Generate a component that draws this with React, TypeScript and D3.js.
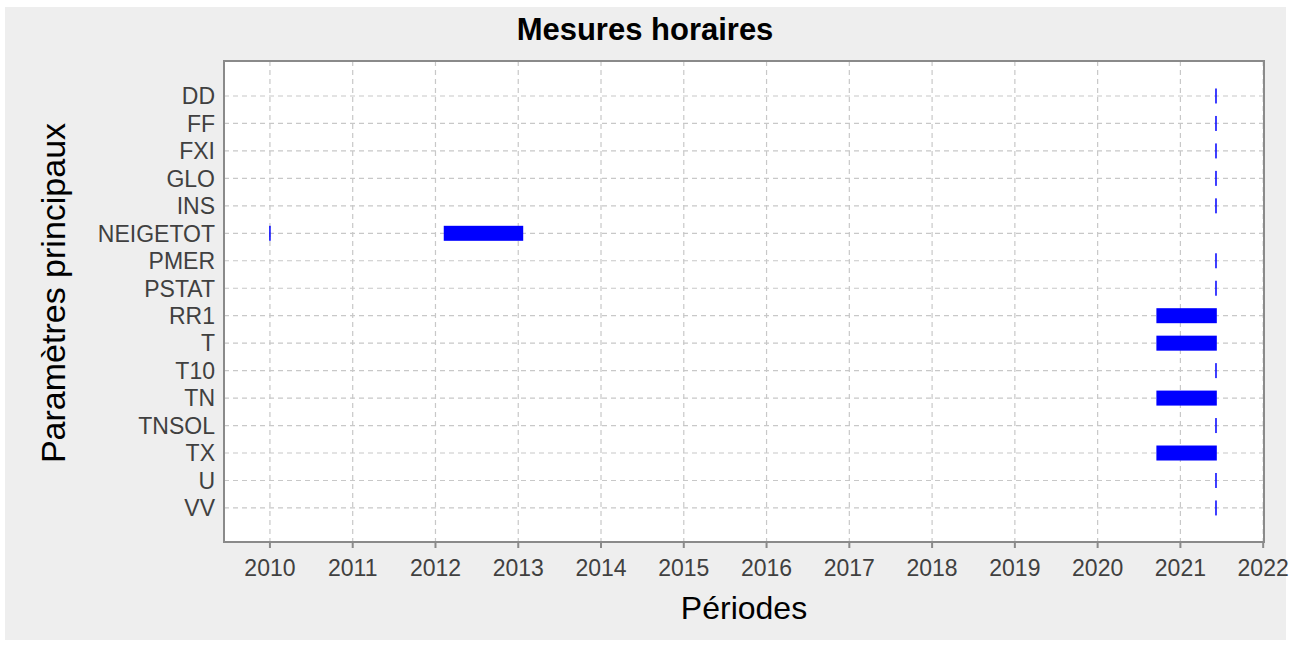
import React, { useEffect, useRef } from 'react';
import * as d3 from 'd3';

const params = ['DD', 'FF', 'FXI', 'GLO', 'INS', 'NEIGETOT', 'PMER', 'PSTAT', 'RR1', 'T', 'T10', 'TN', 'TNSOL', 'TX', 'U', 'VV'];
const years = [2010, 2011, 2012, 2013, 2014, 2015, 2016, 2017, 2018, 2019, 2020, 2021, 2022];

// periods as decimal years, [param, start, end]
const periods: [string, number, number][] = [
  ['DD', 2021.43, 2021.43],
  ['FF', 2021.43, 2021.43],
  ['FXI', 2021.43, 2021.43],
  ['GLO', 2021.43, 2021.43],
  ['INS', 2021.43, 2021.43],
  ['NEIGETOT', 2010.0, 2010.0],
  ['NEIGETOT', 2012.1, 2013.06],
  ['PMER', 2021.43, 2021.43],
  ['PSTAT', 2021.43, 2021.43],
  ['RR1', 2020.71, 2021.44],
  ['T', 2020.71, 2021.44],
  ['T10', 2021.43, 2021.43],
  ['TN', 2020.71, 2021.44],
  ['TNSOL', 2021.43, 2021.43],
  ['TX', 2020.71, 2021.44],
  ['U', 2021.43, 2021.43],
  ['VV', 2021.43, 2021.43],
];

const App: React.FC = () => {
  const ref = useRef<SVGSVGElement>(null);

  useEffect(() => {
    if (!ref.current) return;
    const svg = d3.select(ref.current);
    svg.selectAll('*').remove();

    const W = 1297, H = 646;
    const plot = { left: 224, right: 1264, top: 61, bottom: 542 };
    const font = '"Liberation Sans", Arial, sans-serif';

    // panel background
    svg.append('rect').attr('width', W).attr('height', H).attr('fill', '#ffffff');
    svg.append('rect').attr('x', 5).attr('y', 7).attr('width', 1281).attr('height', 633).attr('fill', '#eeeeee');
    svg.append('rect')
      .attr('x', plot.left).attr('y', plot.top)
      .attr('width', plot.right - plot.left).attr('height', plot.bottom - plot.top)
      .attr('fill', '#ffffff');

    const x = d3.scaleLinear().domain([2009.445, 2022.01]).range([plot.left, plot.right]);
    const y = d3.scaleLinear().domain([-0.274, params.length + 1.24]).range([plot.top, plot.bottom]);
    const rowY = (p: string) => y(params.indexOf(p) + 1);

    // grid
    const grid = svg.append('g').attr('stroke', '#c8c8c8').attr('stroke-width', 1.2).attr('stroke-dasharray', '5,4');
    grid.selectAll('.vg').data(years).join('line')
      .attr('x1', d => x(d)).attr('x2', d => x(d))
      .attr('y1', plot.top).attr('y2', plot.bottom);
    grid.selectAll('.hg').data(params).join('line')
      .attr('x1', plot.left).attr('x2', plot.right)
      .attr('y1', d => rowY(d)).attr('y2', d => rowY(d));

    // bars
    const barH = 15;
    svg.append('g').selectAll('rect').data(periods).join('rect')
      .attr('x', d => (d[2] - d[1] < 0.02 ? x(d[1]) - 0.75 : x(d[1])))
      .attr('width', d => Math.max(1.5, x(d[2]) - x(d[1])))
      .attr('y', d => rowY(d[0]) - barH / 2)
      .attr('height', barH)
      .attr('fill', '#0000ff');

    // frame
    svg.append('rect')
      .attr('x', plot.left).attr('y', plot.top)
      .attr('width', plot.right - plot.left).attr('height', plot.bottom - plot.top)
      .attr('fill', 'none').attr('stroke', '#8a8a8a').attr('stroke-width', 2);

    // x ticks
    const xt = svg.append('g');
    xt.selectAll('line').data(years).join('line')
      .attr('x1', d => x(d)).attr('x2', d => x(d))
      .attr('y1', plot.bottom).attr('y2', plot.bottom + 6)
      .attr('stroke', '#8a8a8a').attr('stroke-width', 2);
    xt.selectAll('text').data(years).join('text')
      .attr('x', d => x(d)).attr('y', 576)
      .attr('text-anchor', 'middle')
      .attr('font-family', font).attr('font-size', 23).attr('fill', '#404040')
      .text(d => d);

    // y labels
    svg.append('g').selectAll('text').data(params).join('text')
      .attr('x', plot.left - 9).attr('y', d => rowY(d))
      .attr('dy', '0.36em').attr('text-anchor', 'end')
      .attr('font-family', font).attr('font-size', 23).attr('fill', '#404040')
      .text(d => d);

    // titles
    svg.append('text')
      .attr('x', 645).attr('y', 40).attr('text-anchor', 'middle')
      .attr('font-family', font).attr('font-size', 31).attr('font-weight', 'bold').attr('fill', '#000')
      .text('Mesures horaires');
    svg.append('text')
      .attr('x', 744).attr('y', 619).attr('text-anchor', 'middle')
      .attr('font-family', font).attr('font-size', 32).attr('fill', '#000')
      .text('Périodes');
    svg.append('text')
      .attr('transform', `translate(${65}, ${293}) rotate(-90)`)
      .attr('text-anchor', 'middle')
      .attr('font-family', font).attr('font-size', 34).attr('fill', '#000')
      .text('Paramètres principaux');
  }, []);

  return (
    <svg ref={ref} width={1297} height={646} style={{ position: 'absolute', left: 0, top: 0 }} />
  );
};

export default App;
